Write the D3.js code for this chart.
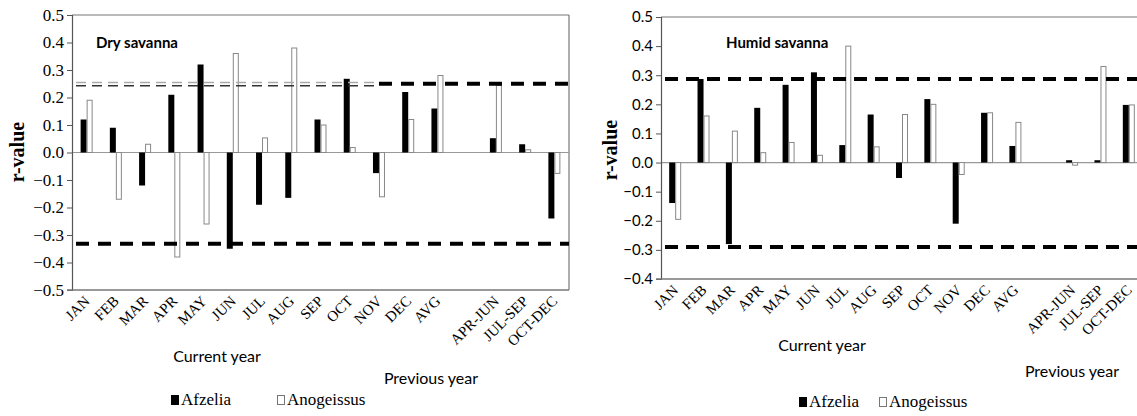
<!DOCTYPE html>
<html>
<head>
<meta charset="utf-8">
<script src="https://cdn.jsdelivr.net/npm/d3@7"></script>
<style>
  body { margin: 0; background: #fff; }
  svg { display: block; }
</style>
</head>
<body>
<svg id="chart" width="1137" height="416"></svg>
<script>
// categories (empty slot between AVG and the previous-year seasons)
let categories = ['JAN','FEB','MAR','APR','MAY','JUN','JUL','AUG','SEP','OCT','NOV','DEC','AVG','','APR-JUN','JUL-SEP','OCT-DEC'];

// Dry savanna
let dryAfzelia    = [0.12, 0.09, -0.12, 0.21, 0.32, -0.35, -0.19, -0.165, 0.12, 0.268, -0.075, 0.22, 0.16, null, 0.052, 0.03, -0.24];
let dryAnogeissus = [0.19, -0.17, 0.03, -0.38, -0.26, 0.36, 0.053, 0.38, 0.10, 0.018, -0.161, 0.12, 0.28, null, 0.244, 0.01, -0.076];
let dryTicks = [0.5, 0.4, 0.3, 0.2, 0.1, 0.0, -0.1, -0.2, -0.3, -0.4, -0.5];

// Humid savanna
let humidAfzelia    = [-0.139, 0.287, -0.28, 0.188, 0.267, 0.31, 0.06, 0.165, -0.053, 0.218, -0.21, 0.171, 0.057, null, 0.008, 0.008, 0.198];
let humidAnogeissus = [-0.195, 0.16, 0.108, 0.034, 0.069, 0.025, 0.40, 0.054, 0.165, 0.20, -0.041, 0.171, 0.138, null, -0.009, 0.33, 0.198];
let humidTicks = [0.5, 0.4, 0.3, 0.2, 0.1, 0.0, -0.1, -0.2, -0.3, -0.4];

let svg = d3.select('#chart');
let serif = '"Liberation Serif", "Times New Roman", serif';
let sans = 'Lato, "Open Sans", sans-serif';

function drawPanel(o) {
    let x = d3.scaleBand().domain(categories.map((c, i) => i)).range([o.x0, o.x1]);
    let y = d3.scaleLinear().domain(o.domain).range([o.y1, o.y0]);
    let g = svg.append('g');
    let bw = 6;

    // frame
    g.append('line').attr('x1', o.x0).attr('x2', o.x1).attr('y1', o.y0).attr('y2', o.y0)
        .attr('stroke', '#777').attr('stroke-width', 1.2);
    g.append('line').attr('x1', o.x1).attr('x2', o.x1).attr('y1', o.y0).attr('y2', o.y1)
        .attr('stroke', '#777').attr('stroke-width', 1.2);

    // zero line
    g.append('line').attr('x1', o.x0).attr('x2', o.x1).attr('y1', y(0)).attr('y2', y(0))
        .attr('stroke', '#999').attr('stroke-width', 1.2);

    // bars
    g.append('g').selectAll('rect')
        .data(o.a.map((v, i) => ({v, i})).filter(d => d.v !== null))
        .join('rect')
        .attr('x', d => x(d.i) + x.bandwidth() / 2 - bw)
        .attr('width', bw)
        .attr('y', d => y(Math.max(0, d.v)))
        .attr('height', d => Math.abs(y(d.v) - y(0)))
        .attr('fill', '#000');
    g.append('g').selectAll('rect')
        .data(o.b.map((v, i) => ({v, i})).filter(d => d.v !== null))
        .join('rect')
        .attr('x', d => x(d.i) + x.bandwidth() / 2 + 0.5)
        .attr('width', bw - 1)
        .attr('y', d => y(Math.max(0, d.v)))
        .attr('height', d => Math.abs(y(d.v) - y(0)))
        .attr('fill', '#fff').attr('stroke', '#888').attr('stroke-width', 1);

    // threshold lines
    o.lines.forEach(function(l) {
        let xa = l.from === undefined ? o.x0 + 4 : x(l.from) + x.bandwidth() / 2;
        let xb = l.to === undefined ? o.x1 : x(l.to) + x.bandwidth() / 2;
        g.append('line').attr('x1', xa).attr('x2', xb).attr('y1', y(l.v)).attr('y2', y(l.v))
            .attr('stroke', l.color).attr('stroke-width', l.w)
            .attr('stroke-dasharray', l.dash);
    });

    // y axis
    let ya = g.append('g').attr('transform', `translate(${o.x0},0)`)
        .call(d3.axisLeft(y).tickValues(o.ticks).tickFormat(d3.format('.1f')).tickSize(5).tickPadding(3));
    ya.attr('font-family', null).attr('font-size', null);
    ya.select('.domain').attr('stroke', '#555').attr('stroke-width', 1.2);
    ya.selectAll('.tick line').attr('stroke', '#555');
    ya.selectAll('.tick text').style('font-family', o.tickFont).style('font-size', o.tickSize + 'px').attr('fill', '#000');

    // bottom axis line
    g.append('line').attr('x1', o.x0 - 5).attr('x2', o.x1).attr('y1', o.y1).attr('y2', o.y1)
        .attr('stroke', '#777').attr('stroke-width', 1.5);

    // category labels
    g.append('g').selectAll('text')
        .data(categories.map((c, i) => ({c, i})).filter(d => d.c !== ''))
        .join('text')
        .attr('transform', d => `translate(${x(d.i) + x.bandwidth() / 2 + 4},${o.y1 + 12}) rotate(-45)`)
        .attr('text-anchor', 'end')
        .style('font-family', serif).style('font-size', '15px')
        .text(d => d.c);

    // title
    g.append('text').attr('x', o.titleX).attr('y', o.titleY)
        .style('font-family', sans).style('font-weight', 'bold').style('font-size', '15px')
        .text(o.title);

    // y label
    g.append('text')
        .attr('transform', `translate(${o.ylabX},${o.ylabY}) rotate(-90)`)
        .attr('text-anchor', 'middle')
        .style('font-family', serif).style('font-weight', 'bold').style('font-size', '20px')
        .text('r-value');

    // x group labels
    g.append('text').attr('x', o.curX).attr('y', o.curY).attr('text-anchor', 'middle')
        .style('font-family', sans).style('font-size', '16px').text('Current year');
    g.append('text').attr('x', o.prevX).attr('y', o.prevY).attr('text-anchor', 'middle')
        .style('font-family', sans).style('font-size', '16px').text('Previous year');

    // legend
    let lg = g.append('g');
    lg.append('rect').attr('x', o.leg1).attr('y', o.legY - 10).attr('width', 8).attr('height', 10).attr('fill', '#000');
    lg.append('text').attr('x', o.leg1 + 10).attr('y', o.legY)
        .style('font-family', serif).style('font-size', '17px').text('Afzelia');
    lg.append('rect').attr('x', o.leg2 + 0.5).attr('y', o.legY - 9.5).attr('width', 7).attr('height', 9)
        .attr('fill', '#fff').attr('stroke', '#777');
    lg.append('text').attr('x', o.leg2 + 10).attr('y', o.legY)
        .style('font-family', serif).style('font-size', '17px').text('Anogeissus');
}

drawPanel({
    x0: 72, x1: 569, y0: 15, y1: 290, domain: [-0.5, 0.5], ticks: dryTicks,
    a: dryAfzelia, b: dryAnogeissus,
    tickFont: serif, tickSize: 17,
    lines: [
        {v: 0.255, color: '#aaa', w: 1.5, dash: '10,6', to: 10},
        {v: 0.243, color: '#333', w: 1.5, dash: '10,6', to: 10},
        {v: 0.25, color: '#000', w: 4, dash: '13,9', from: 10},
        {v: -0.332, color: '#000', w: 4, dash: '13,9'}
    ],
    title: 'Dry savanna', titleX: 96, titleY: 48,
    ylabX: 24, ylabY: 152,
    curX: 217, curY: 362, prevX: 431, prevY: 384,
    leg1: 171, leg2: 277, legY: 405
});

drawPanel({
    x0: 661, x1: 1143, y0: 17, y1: 279, domain: [-0.4, 0.5], ticks: humidTicks,
    a: humidAfzelia, b: humidAnogeissus,
    tickFont: sans, tickSize: 15,
    lines: [
        {v: 0.287, color: '#000', w: 4, dash: '13,8'},
        {v: -0.29, color: '#000', w: 4, dash: '13,8'}
    ],
    title: 'Humid savanna', titleX: 726, titleY: 48,
    ylabX: 617, ylabY: 150,
    curX: 822, curY: 351, prevX: 1072, prevY: 377,
    leg1: 799, leg2: 879, legY: 407
});
</script>
</body>
</html>
